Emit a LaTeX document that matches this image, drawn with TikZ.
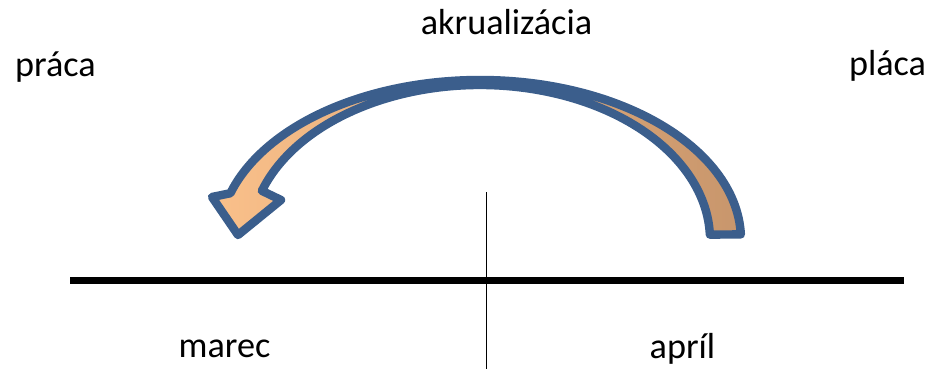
\documentclass[tikz,border=0pt]{standalone}
\usepackage{fontspec}
\setmainfont{Carlito}
\usetikzlibrary{calc}
\definecolor{arrowblue}{HTML}{3B5E8C}
\definecolor{peachL}{HTML}{FAC08A}
\definecolor{peachR}{HTML}{C8966C}
\tikzset{
  word/.style      = {font=\fontsize{20.6}{24}\selectfont, anchor=base, inner sep=0pt},
  timeline/.style  = {line width=4pt},
  divider/.style   = {line width=1.1pt},
  bendarrow/.style = {draw=arrowblue, line width=4.8pt, line join=round,
                      left color=peachL, right color=peachR},
}

\begin{document}
\begin{tikzpicture}[x=0.02cm,y=0.02cm]
  \useasboundingbox (0,0) rectangle (930,369);

  \coordinate (C)  at (480,129);
  \coordinate (TL) at (70,88.5);
  \coordinate (TR) at (904,88.5);
  \coordinate (DT) at (486.5,177);
  \coordinate (DB) at (486.5,0);

  \draw[timeline] (TL) -- (TR);
  \draw[divider] (DT) -- (DB);

  % curved arrow, right to left
  \draw[bendarrow] ($(C)+(2:261 and 160)$)
      arc[start angle=2,end angle=163,x radius=261,y radius=160]
      -- (212,172) -- (238,134) -- (281,169)
      -- ($(C)+(161.5:230 and 155)$)
      arc[start angle=161.5,end angle=2,x radius=230,y radius=155] -- cycle;

  \node[word] (akt)   at (506.5,334) {akrualizácia};
  \node[word] (praca) at (55.5,292)  {práca};
  \node[word] (placa) at (887.5,293) {pláca};
  \node[word] (marec) at (224.5,12)  {marec};
  \node[word] (april) at (682.5,11)  {apríl};
\end{tikzpicture}
\end{document}
